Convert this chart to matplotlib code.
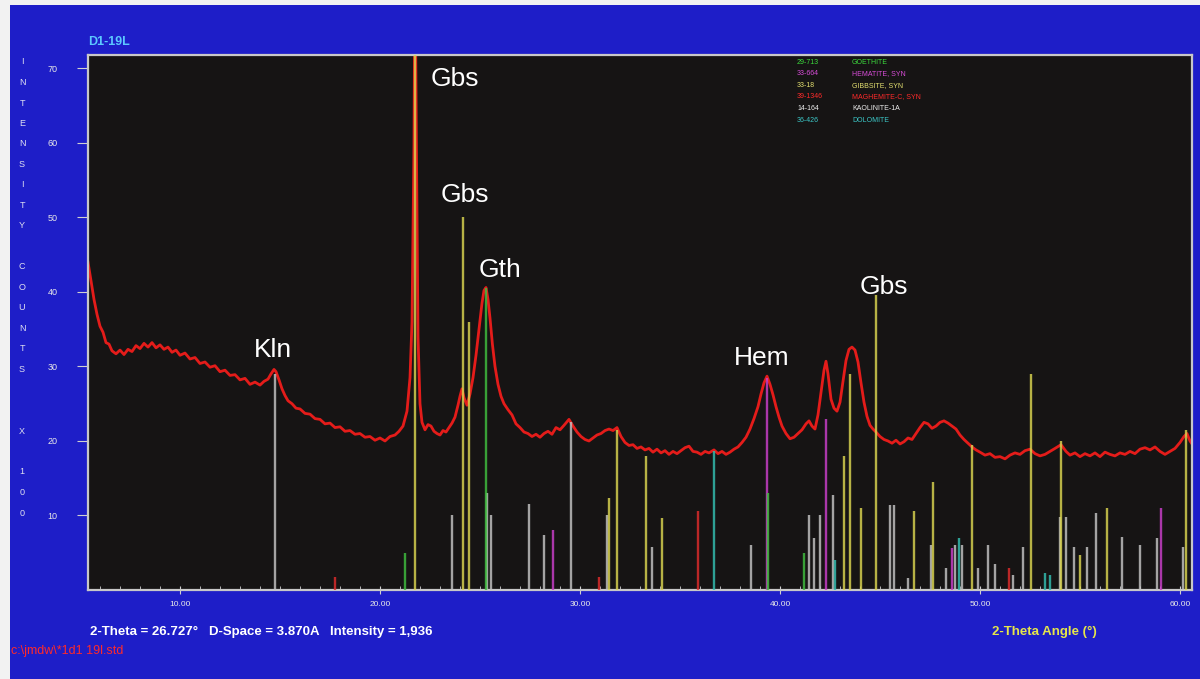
"""XRD pattern D1-19L with phase reference sticks (screen-capture style)."""
import matplotlib
matplotlib.use("Agg")
import matplotlib.pyplot as plt
from matplotlib.patches import Rectangle
from matplotlib.ticker import MultipleLocator

plt.rcParams.update({"font.family": ["Liberation Sans", "DejaVu Sans"]})

# measured pattern (2-theta deg, counts x 100)
two_theta = [
    5.40, 5.55, 5.70, 5.85, 6.00, 6.15, 6.30, 6.45, 6.60, 6.80, 7.00, 7.20, 7.40, 7.60, 7.80,
    8.00, 8.20, 8.40, 8.60, 8.80, 9.00, 9.20, 9.40, 9.60, 9.80, 10.00, 10.25, 10.50, 10.75,
    11.00, 11.25, 11.50, 11.75, 12.00, 12.25, 12.50, 12.75, 13.00, 13.25, 13.50, 13.75, 14.00,
    14.20, 14.40, 14.55, 14.70, 14.80, 14.95, 15.10, 15.25, 15.40, 15.60, 15.80, 16.00, 16.25,
    16.50, 16.75, 17.00, 17.25, 17.50, 17.75, 18.00, 18.25, 18.50, 18.75, 19.00, 19.25, 19.50,
    19.75, 20.00, 20.25, 20.50, 20.75, 20.95, 21.15, 21.35, 21.50, 21.60, 21.70, 21.75, 21.82,
    21.90, 22.00, 22.10, 22.25, 22.40, 22.55, 22.70, 22.85, 23.00, 23.15, 23.30, 23.45, 23.60,
    23.75, 23.90, 24.00, 24.10, 24.20, 24.35, 24.50, 24.65, 24.80, 24.95, 25.10, 25.20, 25.30,
    25.40, 25.50, 25.62, 25.75, 25.90, 26.05, 26.20, 26.40, 26.60, 26.80, 27.00, 27.20, 27.40,
    27.60, 27.80, 28.00, 28.20, 28.40, 28.60, 28.80, 29.00, 29.20, 29.45, 29.65, 29.85, 30.05,
    30.25, 30.45, 30.65, 30.85, 31.05, 31.25, 31.45, 31.65, 31.85, 32.05, 32.25, 32.45, 32.65,
    32.85, 33.05, 33.25, 33.45, 33.65, 33.85, 34.05, 34.25, 34.45, 34.65, 34.85, 35.05, 35.25,
    35.45, 35.65, 35.85, 36.05, 36.25, 36.45, 36.70, 36.90, 37.10, 37.30, 37.50, 37.70, 37.90,
    38.10, 38.30, 38.50, 38.70, 38.90, 39.05, 39.20, 39.35, 39.50, 39.65, 39.80, 39.95, 40.10,
    40.30, 40.50, 40.70, 40.90, 41.10, 41.30, 41.45, 41.60, 41.75, 41.90, 42.05, 42.20, 42.30,
    42.40, 42.55, 42.70, 42.85, 43.00, 43.15, 43.30, 43.45, 43.60, 43.75, 43.90, 44.05, 44.20,
    44.35, 44.50, 44.65, 44.80, 45.00, 45.20, 45.40, 45.60, 45.80, 46.00, 46.20, 46.40, 46.60,
    46.80, 47.00, 47.20, 47.40, 47.60, 47.80, 48.00, 48.20, 48.40, 48.60, 48.80, 49.00, 49.20,
    49.40, 49.60, 49.80, 50.00, 50.25, 50.50, 50.75, 51.00, 51.25, 51.50, 51.75, 52.00, 52.25,
    52.50, 52.75, 53.00, 53.25, 53.50, 53.75, 54.05, 54.30, 54.50, 54.75, 55.00, 55.25, 55.50,
    55.75, 56.00, 56.25, 56.50, 56.75, 57.00, 57.25, 57.50, 57.75, 58.00, 58.25, 58.50, 58.75,
    59.00, 59.25, 59.50, 59.75, 60.00, 60.20, 60.35, 60.50, 60.60,
]
counts = [
    44.0, 41.5, 39.0, 37.0, 35.4, 34.6, 33.2, 33.0, 32.1, 31.7, 32.2, 31.6, 32.3, 32.0, 32.8,
    32.4, 33.1, 32.6, 33.2, 32.5, 32.9, 32.3, 32.6, 31.9, 32.2, 31.5, 31.8, 31.0, 31.2,
    30.4, 30.6, 29.9, 30.1, 29.3, 29.5, 28.8, 28.9, 28.2, 28.4, 27.6, 27.9, 27.5,
    28.0, 28.3, 29.0, 29.6, 29.3, 28.2, 27.0, 26.1, 25.4, 25.0, 24.4, 24.3, 23.7,
    23.6, 23.0, 22.9, 22.3, 22.4, 21.8, 21.9, 21.3, 21.4, 20.9, 21.0, 20.5, 20.6,
    20.1, 20.4, 20.0, 20.6, 20.8, 21.3, 22.0, 24.0, 28.5, 36.0, 60.0, 85.0, 60.0,
    34.0, 25.0, 22.5, 21.5, 22.2, 22.0, 21.3, 21.0, 20.8, 21.4, 21.2, 21.8, 22.4,
    23.2, 24.8, 26.0, 27.0, 25.8, 24.8, 26.3, 28.5, 31.5, 35.0, 38.5, 40.2, 40.6,
    39.0, 36.5, 33.0, 30.0, 27.6, 26.0, 25.0, 24.2, 23.5, 22.3, 21.8, 21.2, 21.0,
    20.6, 20.9, 20.5, 21.0, 21.3, 20.9, 21.8, 21.5, 22.1, 22.9, 22.0, 21.2, 20.6,
    20.2, 20.0, 20.4, 20.8, 21.0, 21.4, 21.6, 21.4, 21.8, 20.6, 19.8, 19.4, 19.5,
    19.0, 19.2, 18.8, 19.0, 18.5, 18.9, 18.4, 18.7, 18.2, 18.6, 18.3, 18.7, 19.1,
    19.3, 18.6, 18.5, 18.2, 18.6, 18.4, 18.8, 18.3, 18.6, 18.2, 18.5, 18.9, 19.2,
    19.8, 20.5, 21.6, 23.0, 24.6, 26.3, 27.8, 28.7, 27.6, 26.2, 24.6, 23.2, 22.0,
    21.0, 20.3, 20.5, 21.0, 21.5, 22.3, 22.7, 22.0, 21.6, 23.5, 26.5, 29.5, 30.7,
    29.0, 25.6, 24.4, 24.0, 25.2, 28.0, 30.8, 32.3, 32.6, 32.2, 30.6, 27.8, 25.2,
    23.3, 22.1, 21.6, 21.2, 20.6, 20.2, 20.0, 19.7, 20.1, 19.6, 19.9, 20.4, 20.2,
    21.0, 21.8, 22.5, 22.3, 21.7, 22.0, 22.5, 22.7, 22.4, 22.0, 21.6, 20.8, 20.2,
    19.7, 19.2, 18.8, 18.5, 18.1, 18.3, 17.8, 17.9, 17.6, 18.1, 18.4, 18.2, 18.7,
    18.9, 18.3, 18.0, 18.2, 18.6, 19.0, 19.5, 18.6, 18.1, 18.4, 17.9, 18.3, 18.0,
    18.4, 17.9, 18.5, 18.2, 18.0, 18.4, 18.2, 18.6, 18.3, 18.9, 19.1, 18.8, 19.2,
    18.6, 18.2, 18.6, 19.0, 19.8, 20.6, 21.0, 20.0, 19.6,
]

# reference sticks per phase
gth_pos = [21.25, 25.30, 39.40, 41.20]
gth_h = [5.0, 40.5, 13.0, 5.0]
hem_pos = [28.65, 39.35, 42.30, 48.60, 59.05]
hem_h = [8.0, 28.5, 23.0, 5.6, 11.0]
gbs_pos = [21.75, 24.15, 24.45, 31.45, 31.85, 33.30, 34.10, 43.20, 43.50, 44.05, 44.80,
           46.70, 47.65, 49.60, 52.55, 54.05, 55.00, 56.35, 60.30]
gbs_h = [100.0, 50.0, 36.0, 12.3, 21.5, 18.0, 9.6, 18.0, 29.0, 11.0, 39.6,
         10.6, 14.5, 19.5, 29.0, 20.0, 4.7, 11.0, 21.5]
mgh_pos = [17.75, 30.95, 35.90, 51.45]
mgh_h = [1.7, 1.8, 10.6, 3.0]
kln_pos = [14.75, 23.60, 25.35, 25.55, 27.45, 28.20, 29.55, 31.35, 33.60, 38.55, 41.45,
           41.70, 42.00, 42.65, 45.50, 45.70, 46.40, 47.55, 48.30, 48.75, 49.10, 49.90,
           50.40, 50.75, 51.65, 52.15, 54.00, 54.30, 54.70, 55.35, 55.80, 57.10, 58.00,
           58.85, 60.15]
kln_h = [29.0, 10.0, 13.0, 10.0, 11.6, 7.4, 22.5, 10.0, 5.8, 6.0, 10.0,
         7.0, 10.0, 12.7, 11.4, 11.4, 1.6, 6.0, 3.0, 6.0, 6.0, 3.0,
         6.0, 3.5, 2.0, 5.8, 9.8, 9.8, 5.8, 5.8, 10.3, 7.1, 6.0,
         7.0, 5.8]
dol_pos = [36.70, 42.75, 48.95, 53.25, 53.50]
dol_h = [18.6, 4.0, 7.0, 2.3, 2.0]

phase_codes = ["29-713", "33-664", "33-18", "39-1346", "14-164", "36-426"]
phase_names = ["GOETHITE", "HEMATITE, SYN", "GIBBSITE, SYN", "MAGHEMITE-C, SYN",
               "KAOLINITE-1A", "DOLOMITE"]

peak_labels = ["Gbs", "Gbs", "Gth", "Kln", "Hem", "Gbs"]
label_x = [23.75, 24.25, 26.0, 14.65, 39.1, 45.2]
label_y = [68.6, 53.0, 43.0, 32.2, 31.1, 40.7]

BLUE = "#1e1ec8"
W, H = 1200, 679


def fx(px):
    return px / W


def fy(py):
    return 1 - py / H


fig = plt.figure(figsize=(12, 6.79), dpi=100, facecolor="#f2f2f2")
fig.patches.append(Rectangle((fx(10), 0), 1 - fx(10), fy(5), transform=fig.transFigure,
                             facecolor=BLUE, edgecolor="none", zorder=-5))

ax = fig.add_axes([fx(88), fy(590), fx(1192) - fx(88), fy(55) - fy(590)])
ax.set_facecolor("#161414")
ax.set_zorder(2)

ax.plot(two_theta, counts, color="#e41c1a", lw=2.0, zorder=2)

# sticks sit on top of the trace, semi-opaque so yellow over red reads orange
stick_sets = [
    (kln_pos, kln_h, "#c4c4c4"),
    (dol_pos, dol_h, "#34c0b2"),
    (mgh_pos, mgh_h, "#e02c2c"),
    (gbs_pos, gbs_h, "#dcd650"),
    (hem_pos, hem_h, "#cc40cc"),
    (gth_pos, gth_h, "#40c040"),
]
for pos, h, col in stick_sets:
    ax.vlines(pos, 0, h, colors=col, lw=1.7, alpha=0.82, zorder=3)

for lab, x, y in zip(peak_labels, label_x, label_y):
    ax.text(x, y, lab, color="white", fontsize=19, ha="center", va="center", zorder=5)

ax.set_xlim(5.4, 60.6)
ax.set_ylim(0, 71.8)
ax.xaxis.set_minor_locator(MultipleLocator(1))
ax.set_yticks([10, 20, 30, 40, 50, 60, 70])
ax.set_xticks([10, 20, 30, 40, 50, 60])
ax.set_xticklabels([f"{v:.2f}" for v in [10, 20, 30, 40, 50, 60]])
ax.tick_params(axis="x", which="major", direction="inout", length=6, color="#d0d0d0",
               labelcolor="#e8e8e8", labelsize=6, pad=5)
ax.tick_params(axis="x", which="minor", direction="in", length=3, color="#d0d0d0")
ax.tick_params(axis="y", direction="out", length=8, color="#d0d0d0",
               labelcolor="#e8e8e8", labelsize=6.5, pad=14)
for s in ax.spines.values():
    s.set_color("#c8c8c8")
    s.set_linewidth(1.6)

# vertical stacked y label
ylab = "INTENSITY COUNTS  X 100"
for i, ch in enumerate(ylab):
    if ch != " ":
        fig.text(fx(22), fy(62 + 20.5 * i), ch, color="#e0e0f0", fontsize=6.5,
                 ha="center", va="center")

fig.text(fx(88), fy(42), "D1-19L", color="#5cc8ff", fontsize=9, fontweight="bold",
         va="center")

# phase legend (drawn over the plot area)
leg_cols = ["#3cdc3c", "#d84cd8", "#e4e070", "#ff2a2a", "#f0f0f0", "#3cc8c8"]
for i, (code, name, col) in enumerate(zip(phase_codes, phase_names, leg_cols)):
    yy = fy(62 + 11.6 * i)
    fig.text(fx(797), yy, code, color=col, fontsize=5, va="center", zorder=10)
    fig.text(fx(852), yy, name, color=col, fontsize=5, va="center", zorder=10)

fig.text(fx(90), fy(632), "2-Theta = 26.727\u00b0   D-Space = 3.870A   Intensity = 1,936",
         color="white", fontsize=9.5, fontweight="bold", va="center")
fig.text(fx(992), fy(632), "2-Theta Angle (\u00b0)", color="#e6e64a", fontsize=9.5,
         fontweight="bold", va="center")
fig.text(fx(11), fy(651), "c:\\jmdw\\*1d1 19l.std", color="#ff2a2a", fontsize=9,
         va="center")

fig.savefig("out.png", dpi=100, facecolor=fig.get_facecolor())
